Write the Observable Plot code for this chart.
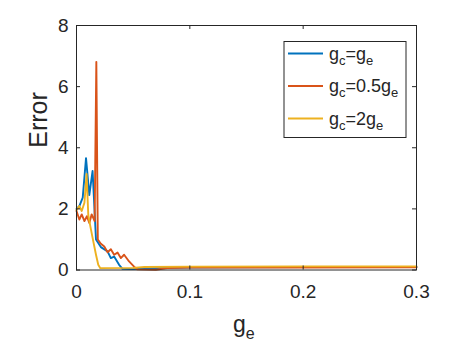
<!DOCTYPE html>
<html>
<head>
<meta charset="utf-8">
<script src="https://cdn.jsdelivr.net/npm/d3@7"></script>
<script src="https://cdn.jsdelivr.net/npm/@observablehq/plot@0.6"></script>
<style>
  html, body { margin: 0; padding: 0; background: #fff; }
  #chart { width: 453px; height: 355px; }
</style>
</head>
<body>
<div id="chart"></div>
<script>
// ---- data ----
const seriesNames = ["g_c=g_e", "g_c=0.5g_e", "g_c=2g_e"];
const seriesColors = ["#0072BD", "#D95319", "#EDB120"];

const blueX = [0, 0.0026, 0.0055, 0.0084, 0.0113, 0.0142, 0.0172, 0.0215, 0.0274, 0.0303, 0.0332, 0.0376, 0.0406, 0.05, 0.07, 0.1, 0.15, 0.2, 0.3];
const blueY = [2.0, 2.1, 2.37, 3.66, 2.45, 3.24, 1.0, 0.75, 0.61, 0.39, 0.44, 0.17, 0.04, 0.03, 0.06, 0.08, 0.09, 0.1, 0.1];

const orangeX = [0, 0.0025, 0.0046, 0.007, 0.0092, 0.0113, 0.0134, 0.016, 0.0175, 0.0188, 0.0215, 0.0245, 0.0274, 0.0303, 0.0332, 0.0362, 0.0391, 0.042, 0.0464, 0.0508, 0.0538, 0.07, 0.08, 0.1, 0.2, 0.3];
const orangeY = [1.93, 1.65, 1.82, 1.6, 1.76, 1.54, 1.82, 1.6, 6.81, 1.0, 0.86, 0.77, 0.58, 0.68, 0.5, 0.57, 0.39, 0.5, 0.28, 0.11, 0.02, 0.01, 0.06, 0.08, 0.08, 0.09];

const yellowX = [0, 0.0025, 0.0046, 0.007, 0.0089, 0.0104, 0.0121, 0.0142, 0.0172, 0.0192, 0.021, 0.05, 0.06, 0.1, 0.2, 0.3];
const yellowY = [1.96, 2.09, 1.93, 2.2, 3.14, 1.8, 1.45, 1.05, 0.5, 0.17, 0.06, 0.07, 0.1, 0.11, 0.12, 0.12];

const xTicks = [0, 0.1, 0.2, 0.3];
const yTicks = [0, 2, 4, 6, 8];
const xLabel = "g_e";
const yLabel = "Error";

// ---- build table ----
const seriesX = [blueX, orangeX, yellowX];
const seriesY = [blueY, orangeY, yellowY];
const rows = [];
seriesNames.forEach((name, i) => {
  seriesX[i].forEach((x, j) => rows.push({series: name, x, y: seriesY[i][j]}));
});

const W = 453, H = 355;
const mL = 76, mR = 37, mT = 25, mB = 85.5;
const plotW = W - mL - mR, plotH = H - mT - mB;
const tick = 4;
const ink = "#262626";
const font = "'Liberation Sans', Arial, sans-serif";

const plot = Plot.plot({
  width: W, height: H,
  marginLeft: mL, marginRight: mR, marginTop: mT, marginBottom: mB,
  style: {fontFamily: font, color: ink, background: "#fff"},
  x: {domain: [0, 0.3]},
  y: {domain: [0, 8]},
  color: {domain: seriesNames, range: seriesColors},
  marks: [
    Plot.line(rows, {x: "x", y: "y", z: "series", stroke: "series", strokeWidth: 1.9, strokeLinejoin: "round"}),
    Plot.frame({stroke: ink, strokeWidth: 1}),
    // inward ticks (all four sides)
    Plot.ruleX(xTicks, {x: d => d, insetTop: plotH - tick, stroke: ink}),
    Plot.ruleX(xTicks, {x: d => d, insetBottom: plotH - tick, stroke: ink}),
    Plot.ruleY(yTicks, {y: d => d, insetRight: plotW - tick, stroke: ink}),
    Plot.ruleY(yTicks, {y: d => d, insetLeft: plotW - tick, stroke: ink}),
    Plot.axisX({ticks: xTicks, tickSize: 0, tickPadding: 14, fontSize: 19, label: null, tickFormat: d => String(d)}),
    Plot.axisY({ticks: yTicks, tickSize: 0, tickPadding: 8, fontSize: 19, label: null}),
    Plot.text([yLabel], {frameAnchor: "left", rotate: -90, dx: -38, fontSize: 25, fill: ink})
  ]
});

document.getElementById("chart").appendChild(plot);

const svg = d3.select(plot);

function addRich(g, str, x, y, size, subSize, subDy) {
  const t = g.append("text").attr("x", x).attr("y", y)
    .attr("text-anchor", "start")
    .attr("font-family", font).attr("font-size", size).attr("fill", ink);
  const parts = str.split(/(_.)/).filter(s => s.length);
  let shifted = false;
  parts.forEach(p => {
    if (p[0] === "_") {
      t.append("tspan").attr("font-size", subSize).attr("dy", subDy).text(p[1]);
      shifted = true;
    } else {
      const ts = t.append("tspan").text(p);
      if (shifted) { ts.attr("dy", -subDy); shifted = false; }
    }
  });
  return t;
}

// x axis label g_e
const xl = svg.append("g");
addRich(xl, xLabel, 0, 0, 23, 16, 7).attr("x", 233).attr("y", 332);

// legend
const lg = svg.append("g");
const lx = 284, ly = 41.5, lw = 122, lh = 96;
lg.append("rect").attr("x", lx).attr("y", ly).attr("width", lw).attr("height", lh)
  .attr("fill", "#fff").attr("stroke", ink).attr("stroke-width", 1);
const rowY = [53.5, 86, 118.5];
seriesNames.forEach((name, i) => {
  lg.append("line").attr("x1", 288).attr("x2", 323).attr("y1", rowY[i]).attr("y2", rowY[i])
    .attr("stroke", seriesColors[i]).attr("stroke-width", 1.9);
  addRich(lg, name, 329, rowY[i] + 6, 18, 13, 5);
});
</script>
</body>
</html>
